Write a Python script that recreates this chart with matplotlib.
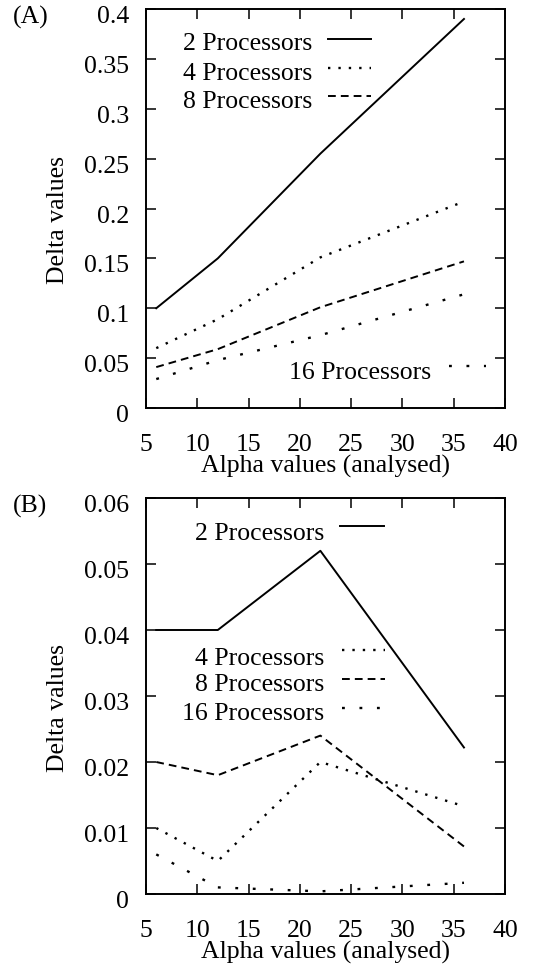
import matplotlib

matplotlib.use("Agg")
import matplotlib.pyplot as plt
from matplotlib.ticker import FuncFormatter
from matplotlib.transforms import ScaledTranslation

# ── data ────────────────────────────────────────────────────────────────
alpha = [6, 12, 22, 36]

# panel A
a_p2 = [0.100, 0.150, 0.255, 0.390]
a_p4 = [0.060, 0.089, 0.151, 0.207]
a_p8 = [0.041, 0.059, 0.101, 0.147]
a_p16 = [0.029, 0.048, 0.073, 0.114]

# panel B
b_p2 = [0.0400, 0.0400, 0.0520, 0.0222]
b_p4 = [0.0100, 0.0050, 0.0200, 0.0133]
b_p8 = [0.0200, 0.0180, 0.0240, 0.0072]
b_p16 = [0.0060, 0.0010, 0.0004, 0.0017]

labels = ["2 Processors", "4 Processors", "8 Processors", "16 Processors"]
a_ticks = [0, 0.05, 0.1, 0.15, 0.2, 0.25, 0.3, 0.35, 0.4]
b_ticks = [0, 0.01, 0.02, 0.03, 0.04, 0.05, 0.06]
x_ticks = [5, 10, 15, 20, 25, 30, 35, 40]

plt.rcParams["font.family"] = ["Liberation Serif", "DejaVu Serif"]
FS = 18.5
LW = 1.4

styles = [
    dict(linestyle="-", lw=LW),
    dict(linestyle=(0, (1.0, 3.4)), lw=1.7),
    dict(linestyle=(0, (4.0, 2.6)), lw=LW),
    dict(linestyle=(0, (1.2, 6.2)), lw=1.7),
]

fig = plt.figure(figsize=(5.34, 9.76), dpi=100)
axA = fig.add_axes([146 / 534, 1 - 408 / 976, 359 / 534, 399 / 976])
axB = fig.add_axes([146 / 534, 1 - 894 / 976, 359 / 534, 396 / 976])


def setup(ax, yticks, ymax):
    ax.set_xlim(5, 40)
    ax.set_ylim(0, ymax)
    ax.set_xticks(x_ticks)
    ax.set_yticks(yticks)
    ax.yaxis.set_major_formatter(FuncFormatter(lambda v, p: "%g" % v))
    ax.tick_params(direction="in", length=7.5, width=1.1, labelsize=FS,
                   top=True, right=True)
    ax.tick_params(axis="y", pad=12)
    ax.tick_params(axis="x", pad=19)
    for s in ax.spines.values():
        s.set_linewidth(1.4)
    # y labels sit a little below their ticks in the original
    shift = ScaledTranslation(0, -4 / 72, fig.dpi_scale_trans)
    for lab in ax.get_yticklabels():
        lab.set_transform(lab.get_transform() + shift)
    ax.set_xlabel("Alpha values (analysed)", fontsize=FS)
    ax.set_ylabel("Delta values", fontsize=FS)
    ax.xaxis.set_label_coords(0.5, -0.118)
    ax.yaxis.set_label_coords(-0.215, 0.47)


def key(ax, text, tx, ty, sx0, sx1, sy, st):
    ax.text(tx, ty, text, transform=ax.transAxes, ha="right", va="center",
            fontsize=FS)
    ax.plot([sx0, sx1], [sy, sy], transform=ax.transAxes, color="black",
            clip_on=False, **st)


# ── panel A ─────────────────────────────────────────────────────────────
setup(axA, a_ticks, 0.4)
for ys, st in zip([a_p2, a_p4, a_p8, a_p16], styles):
    axA.plot(alpha, ys, color="black", **st)

key(axA, labels[0], 0.462, 0.912, 0.507, 0.627, 0.925, styles[0])
key(axA, labels[1], 0.462, 0.838, 0.507, 0.627, 0.853, styles[1])
key(axA, labels[2], 0.462, 0.767, 0.507, 0.627, 0.781, styles[2])
key(axA, labels[3], 0.794, 0.088, 0.844, 0.947, 0.105, styles[3])

# ── panel B ─────────────────────────────────────────────────────────────
setup(axB, b_ticks, 0.06)
for ys, st in zip([b_p2, b_p4, b_p8, b_p16], styles):
    axB.plot(alpha, ys, color="black", **st)

key(axB, labels[0], 0.496, 0.910, 0.540, 0.662, 0.929, styles[0])
key(axB, labels[1], 0.496, 0.594, 0.545, 0.665, 0.616, styles[1])
key(axB, labels[2], 0.496, 0.528, 0.545, 0.665, 0.543, styles[2])
key(axB, labels[3], 0.496, 0.455, 0.545, 0.665, 0.470, styles[3])

fig.text(13 / 534, 1 - 17 / 976, "(A)", ha="left", va="center", fontsize=FS)
fig.text(13 / 534, 1 - 506 / 976, "(B)", ha="left", va="center", fontsize=FS)

fig.savefig("out.png", dpi=100)
